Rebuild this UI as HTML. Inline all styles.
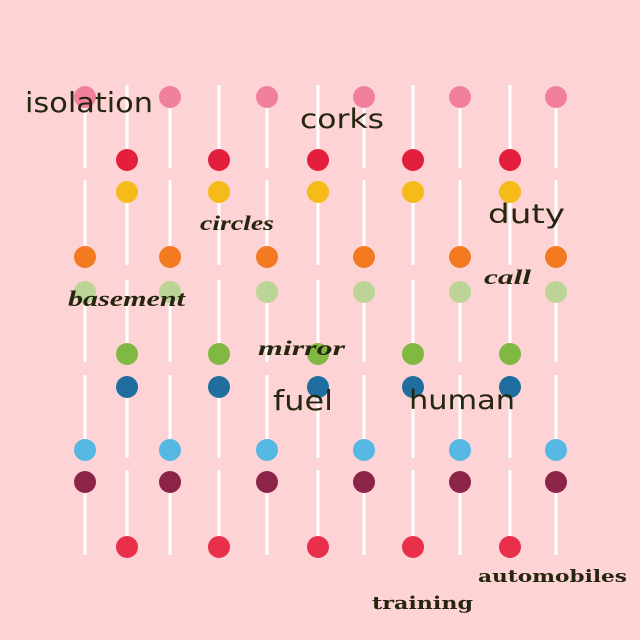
<!DOCTYPE html>
<html><head><meta charset="utf-8"><style>
html,body{margin:0;padding:0;background:#fdd3d6}
svg{display:block}
.w{fill:#26260e;font-family:"DejaVu Sans","Liberation Sans",sans-serif}
.s{fill:#26260e;font-family:"Liberation Serif",serif;font-style:italic;font-weight:bold}
.b{fill:#26260e;font-family:"DejaVu Serif","Liberation Serif",serif;font-weight:bold}
</style></head><body>
<svg id="c" width="640" height="640" viewBox="0 0 640 640">
<rect width="640" height="640" fill="#fdd3d6"/>
<g id="pops"></g>
<g>
<text class="w" x="25" y="112" font-size="28" textLength="128" lengthAdjust="spacingAndGlyphs">isolation</text>
<text class="w" x="300" y="128" font-size="27" textLength="84" lengthAdjust="spacingAndGlyphs">corks</text>
<text class="w" x="488" y="223" font-size="27" textLength="77" lengthAdjust="spacingAndGlyphs">duty</text>
<text class="w" x="273" y="410" font-size="28" textLength="60" lengthAdjust="spacingAndGlyphs">fuel</text>
<text class="w" x="409" y="409" font-size="27" textLength="106" lengthAdjust="spacingAndGlyphs">human</text>
<text class="s" x="200" y="230" font-size="21" textLength="74" lengthAdjust="spacingAndGlyphs">circles</text>
<text class="s" x="68" y="306" font-size="22" textLength="117" lengthAdjust="spacingAndGlyphs">basement</text>
<text class="s" x="258" y="355" font-size="21" textLength="87" lengthAdjust="spacingAndGlyphs">mirror</text>
<text class="s" x="484" y="284" font-size="21" textLength="47" lengthAdjust="spacingAndGlyphs">call</text>
<text class="b" x="478" y="582" font-size="17" textLength="149" lengthAdjust="spacingAndGlyphs">automobiles</text>
<text class="b" x="372" y="609" font-size="18" textLength="101" lengthAdjust="spacingAndGlyphs">training</text>
</g>
</svg>
<script>
const colsA=[85,170,267,364,460,556];
const colsB=[127,219,318,413,510];
const rowTops=[85,180,280,375,470];
const rowBottoms=[168,265,362,458,555];
const rowCandyTopIsA=[true,false,true,false,true];
const topColors=["#f0809e","#f5bb18","#bcd596","#1f6e9f","#8c2447"];
const bottomColors=["#e31f3c","#f47a22","#80b842","#55b8e2","#e8304a"];
const g=document.getElementById('pops');
const NS="http://www.w3.org/2000/svg";
function mk(t,a){const e=document.createElementNS(NS,t);for(const k in a)e.setAttribute(k,a[k]);g.appendChild(e);return e;}
for(let r=0;r<rowTops.length;r++){
  const topCols=rowCandyTopIsA[r]?colsA:colsB;
  const botCols=rowCandyTopIsA[r]?colsB:colsA;
  const t=rowTops[r],b=rowBottoms[r];
  topCols.forEach(x=>{
    const s=mk('line',{x1:x,y1:t+12,x2:x,y2:b,stroke:'#fff',"stroke-width":3});
    
    
    const c=mk('circle',{cx:x,cy:t+12,r:11,fill:topColors[r]});
    
    
  });
  botCols.forEach(x=>{
    const s=mk('line',{x1:x,y1:t,x2:x,y2:b-8,stroke:'#fff',"stroke-width":3});
    
    
    const c=mk('circle',{cx:x,cy:b-8,r:11,fill:bottomColors[r]});
    
    
  });
}
</script>
</body></html>
